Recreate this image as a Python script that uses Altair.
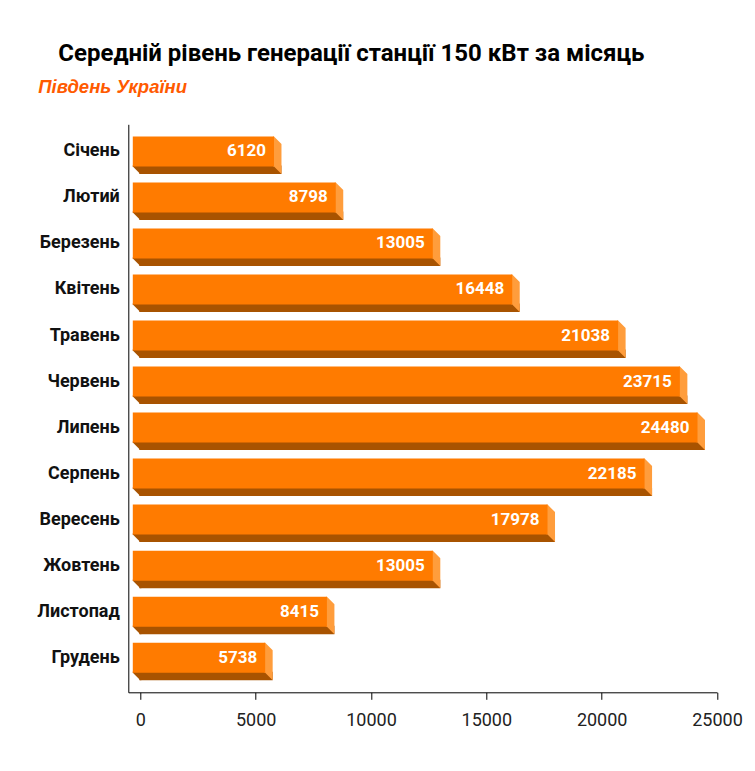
import altair as alt
import pandas as pd

months = ["Січень", "Лютий", "Березень", "Квітень", "Травень", "Червень",
          "Липень", "Серпень", "Вересень", "Жовтень", "Листопад", "Грудень"]
values = [6120, 8798, 13005, 16448, 21038, 23715, 24480, 22185, 17978, 13005, 8415, 5738]
x_ticks = [0, 5000, 10000, 15000, 20000, 25000]
title_text = "Середній рівень генерації станції 150 кВт за місяць"
subtitle_text = "Південь України"

FRONT = "#FF7B00"
SIDE = "#FF9D3C"
BOTTOM = "#A85300"
SUB = "#FF5A00"
D = 7.5      # depth of 3D effect (px)
H = 30       # front face height (px)

df = pd.DataFrame({"month": months, "value": values})

x_enc = alt.X("value:Q",
              scale=alt.Scale(domain=[-520, 25000], nice=False, zero=False),
              axis=alt.Axis(values=x_ticks, format="d", grid=False, domainColor="#000",
                            tickColor="#000", tickSize=7, labelFont="Roboto", labelFontSize=18,
                            labelColor="#222", labelPadding=12, title=None, labelFlush=False),
              title=None)
y_enc = alt.Y("month:N", sort=months,
              scale=alt.Scale(paddingInner=0, paddingOuter=0.17),
              axis=alt.Axis(ticks=False, domainColor="#000", labelFont="Roboto",
                            labelFontWeight="bold", labelFontSize=18, labelColor="#111",
                            labelPadding=9, labelOffset=-D / 2, title=None),
              title=None)

base = alt.Chart(df)

# bottom face (dark)
bottom = base.mark_bar(color=BOTTOM, opacity=1, height=D + 1, yOffset=H / 2 - D / 2 + (D - 1) / 2,
                       x2Offset=-1).encode(x=x_enc, x2=alt.datum(0), y=y_enc)
# left diagonal end of bottom face
left_path = "M-7.5,11.25 L-7.5,10 L1,10 L1,18.75 L0,18.75 Z"
left_cap = base.mark_point(shape=left_path, size=4, filled=True, opacity=1, strokeWidth=0,
                           color=BOTTOM).encode(x=alt.datum(0), y=y_enc)
# right side face (light)
side_path = "M-8.5,-18.75 L-7.5,-18.75 L0,-11.25 L0,18.75 L-7.5,11.25 L-8.5,11.25 Z"
side = base.mark_point(shape=side_path, size=4, filled=True, opacity=1, strokeWidth=0,
                       color=SIDE).encode(x=x_enc, y=y_enc)
# front face
front = base.mark_bar(color=FRONT, opacity=1, height=H, yOffset=-D / 2,
                      xOffset=-D, x2Offset=-D).encode(x=x_enc, x2=alt.datum(0), y=y_enc)
labels = base.mark_text(align="right", baseline="middle", dx=-15.5, dy=-D / 2,
                        font="Roboto", fontWeight="bold", fontSize=17, color="white").encode(
    x=x_enc, y=y_enc, text=alt.Text("value:Q", format="d"))

tdf = pd.DataFrame({"t": [title_text], "s": [subtitle_text]})
title = alt.Chart(tdf).mark_text(align="left", baseline="alphabetic", font="Roboto",
                                 fontWeight="bold", fontSize=24, color="#000").encode(
    x=alt.value(-70), y=alt.value(-63.5), text="t:N")
subtitle = alt.Chart(tdf).mark_text(align="left", baseline="alphabetic", font="Liberation Sans",
                                    fontWeight="bold", fontStyle="italic", fontSize=18.5,
                                    color=SUB).encode(
    x=alt.value(-90), y=alt.value(-31), text="s:N")

chart = alt.layer(bottom, left_cap, side, front, labels, title, subtitle).properties(
    width=588.7, height=568,
    autosize=alt.AutoSizeParams(type="none"),
    padding={"left": 120.3, "top": 116.3, "right": 30, "bottom": 60},
).configure_view(stroke=None)

chart.save("out.html", embed_options={"renderer": "svg", "actions": False})
